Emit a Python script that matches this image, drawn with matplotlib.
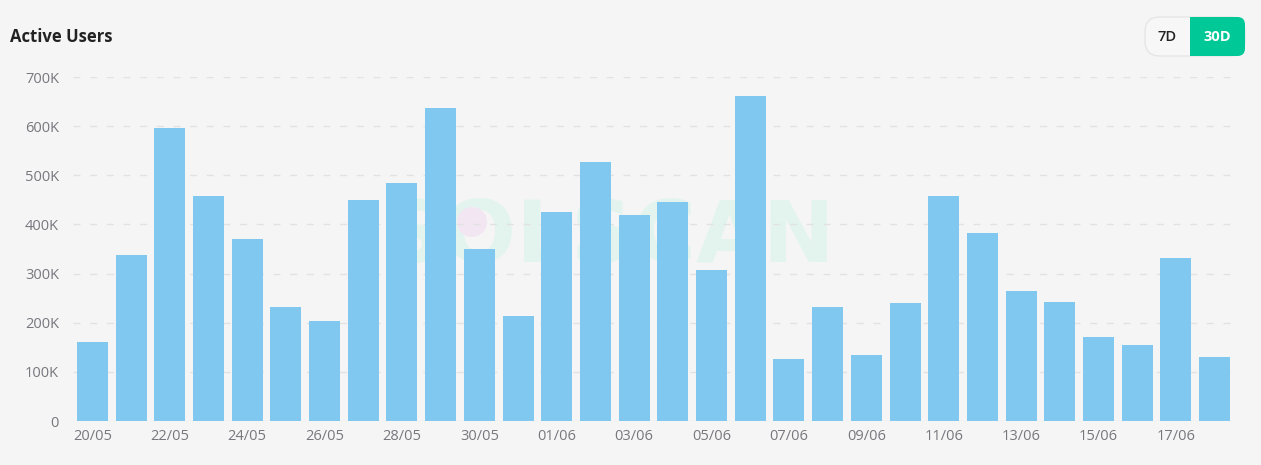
import matplotlib
matplotlib.use("Agg")
import matplotlib.pyplot as plt
from matplotlib.patches import FancyBboxPatch, Rectangle

dates = ["20/05","21/05","22/05","23/05","24/05","25/05","26/05","27/05","28/05","29/05",
         "30/05","31/05","01/06","02/06","03/06","04/06","05/06","06/06","07/06","08/06",
         "09/06","10/06","11/06","12/06","13/06","14/06","15/06","16/06","17/06","18/06"]
users_k = [161, 338, 596, 458, 370, 232, 204, 450, 484, 637,
           350, 214, 425, 527, 419, 446, 307, 661, 126, 232,
           134, 240, 458, 383, 265, 242, 171, 155, 332, 130]
yticks_k = [0, 100, 200, 300, 400, 500, 600, 700]
ytick_labels = ["0", "100K", "200K", "300K", "400K", "500K", "600K", "700K"]

plt.rcParams['font.family'] = ['Open Sans', 'DejaVu Sans']
W, H = 1261, 465
fig = plt.figure(figsize=(W/100, H/100), dpi=100, facecolor="#f5f5f5")
ax = fig.add_axes([73/W, 1-421/H, (1234-73)/W, (421-77)/H], facecolor="#f5f5f5")

x = list(range(len(dates)))
# watermark
ax.text(13.35, 372, "SOLSCAN", ha="center", va="center", fontsize=62, fontweight="bold",
        family="DejaVu Sans", color="#e3f4ef", zorder=0)
ax.scatter([9.81], [405], s=470, color="#f3e6f3", edgecolors="none", zorder=0.5)

for yk in yticks_k[1:]:
    ax.axhline(yk, color="#e2e2e2", lw=1, ls=(0, (5, 7)), zorder=1)

ax.bar(x, users_k, width=0.8, color="#80c8ef", zorder=2)
ax.set_xlim(-0.5, len(dates) - 0.5)
ax.set_ylim(0, 700)
ax.set_yticks(yticks_k)
ax.set_yticklabels(ytick_labels)
ax.set_xticks(x[::2])
ax.set_xticklabels(dates[::2])
ax.tick_params(axis="both", length=0, labelsize=10.5, labelcolor="#77777e")
ax.tick_params(axis="y", pad=10)
ax.tick_params(axis="x", pad=6)
for s in ax.spines.values():
    s.set_visible(False)
ax.axhline(0, color="#e6e6e6", lw=1, zorder=1)

fig.text(10/W, 1-37/H, "Active Users", ha="left", va="center", fontsize=12,
         fontweight="bold", color="#222222")

# buttons
bx0, bx1, bx2 = 1145/W, 1190/W, 1245/W
by0, by1 = 1-56/H, 1-17/H
fig.patches.append(FancyBboxPatch((bx0, by0), bx2-bx0, by1-by0,
                   boxstyle="round,pad=0,rounding_size=0.012", transform=fig.transFigure,
                   facecolor="#f7f7f7", edgecolor="#e6e6e6", lw=1, mutation_aspect=W/H))
fig.patches.append(FancyBboxPatch((bx1, by0), bx2-bx1, by1-by0,
                   boxstyle="round,pad=0,rounding_size=0.006", transform=fig.transFigure,
                   facecolor="#00c896", edgecolor="none", mutation_aspect=W/H))
fig.patches.append(Rectangle((bx1, by0), 0.006, by1-by0, transform=fig.transFigure,
                   facecolor="#00c896", edgecolor="none"))
fig.text((bx0+bx1)/2, (by0+by1)/2, "7D", ha="center", va="center", fontsize=10.5,
         color="#222222", fontweight="semibold")
fig.text((bx1+bx2)/2, (by0+by1)/2, "30D", ha="center", va="center", fontsize=10.5,
         color="white", fontweight="bold")

fig.savefig("out.png", dpi=100, facecolor=fig.get_facecolor())
